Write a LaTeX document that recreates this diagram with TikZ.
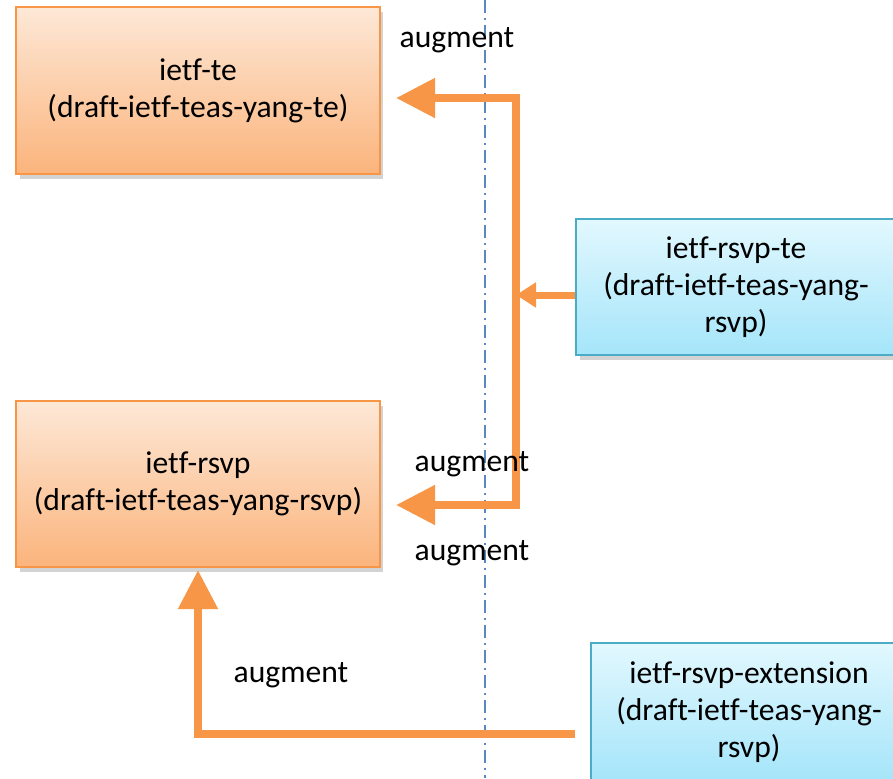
\documentclass[tikz,border=0pt]{standalone}
\usepackage{fontspec}
\setmainfont{Carlito}[Ligatures={NoCommon}]
\usetikzlibrary{arrows.meta,shadows}

\definecolor{augorange}{HTML}{F79646}
\definecolor{tetop}{HTML}{FDE8D7}
\definecolor{tebottom}{HTML}{FBB47C}
\definecolor{rsvptop}{HTML}{E2F8FE}
\definecolor{rsvpbottom}{HTML}{A5E5FA}
\definecolor{rsvpedge}{HTML}{4BACC6}
\definecolor{axisblue}{HTML}{5B87C2}

\begin{document}
\begin{tikzpicture}[x=0.02cm, y=-0.02cm, line cap=butt,
	every node/.style={font=\fontsize{18}{21}\selectfont},
	basebox/.style={draw=augorange, line width=1.2pt, align=center,
		top color=tetop, bottom color=tebottom,
		drop shadow={opacity=0.35, shadow xshift=2pt, shadow yshift=-3pt}},
	extbox/.style={draw=rsvpedge, line width=1.2pt, align=center,
		top color=rsvptop, bottom color=rsvpbottom,
		drop shadow={opacity=0.35, shadow xshift=2pt, shadow yshift=-3pt}},
	bigarrow/.style={draw=augorange, line width=0.16cm,
		-{Triangle[length=0.78cm, width=0.76cm]}},
	smallarrow/.style={draw=augorange, line width=0.14cm,
		-{Triangle[length=0.4cm, width=0.48cm]}},
	augtext/.style={inner sep=0pt}]

	% frame
	\useasboundingbox (0,0) rectangle (893,778);

	% dash-dot line
	\draw[axisblue, line width=0.04cm,
		dash pattern=on 0.26cm off 0.1cm on 0.04cm off 0.1cm]
		(485,0) -- (485,778);

	% modules
	\node[basebox, minimum width=7.28cm, minimum height=3.34cm]
		(te) at (198,90.5) {ietf-te\\(draft-ietf-teas-yang-te)};
	\node[basebox, minimum width=7.28cm, minimum height=3.32cm]
		(rsvp) at (198,484) {ietf-rsvp\\(draft-ietf-teas-yang-rsvp)};
	\node[extbox, minimum width=6.4cm, minimum height=2.72cm]
		(rsvpte) at (736,287) {ietf-rsvp-te\\(draft-ietf-teas-yang-\\rsvp)};
	\node[extbox, minimum width=6.32cm, minimum height=2.76cm]
		(ext) at (749,712) {ietf-rsvp-extension\\(draft-ietf-teas-yang-\\rsvp)};

	% corners
	\coordinate (jt) at (516,98);
	\coordinate (jb) at (516,505);
	\coordinate (jm) at (516,295);
	\coordinate (bk) at (198,734);

	% augment arrows
	\draw[bigarrow, {Triangle[length=0.78cm, width=0.76cm]}-{Triangle[length=0.78cm, width=0.76cm]},
		shorten <=0.3cm, shorten >=0.3cm]
		(jt -| te.east) -- (jt) -- (jb) -- (jb -| rsvp.east);
	\draw[smallarrow] (rsvpte.west |- jm) -- (jm);
	\draw[bigarrow, shorten <=0.3cm, shorten >=0.04cm]
		(ext.west |- bk) -- (bk) -- (rsvp.south -| bk);

	% labels
	\node[augtext] (l1) at (457,40) {augment};
	\node[augtext] (l2) at (472,464) {augment};
	\node[augtext] (l3) at (472,553) {augment};
	\node[augtext] (l4) at (291,675) {augment};

\end{tikzpicture}
\end{document}
